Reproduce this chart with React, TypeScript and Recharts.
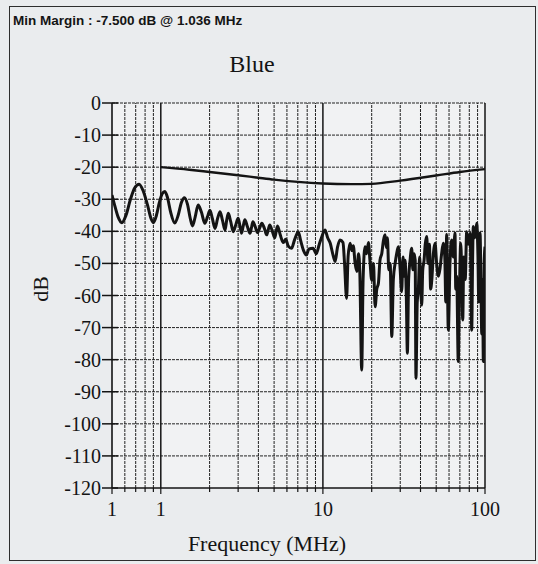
import React from "react";
import {
  LineChart,
  Line,
  XAxis,
  YAxis,
  CartesianGrid,
  ReferenceLine,
} from "recharts";

const measFreq = [
  0.5, 0.52, 0.545, 0.575, 0.61, 0.65, 0.69, 0.735, 0.78, 0.83,
  0.87, 0.9, 0.94, 0.98, 1.02, 1.06, 1.1, 1.15, 1.22, 1.28,
  1.34, 1.4, 1.46, 1.52, 1.57, 1.63, 1.7, 1.78, 1.87, 1.94,
  2.01, 2.08, 2.16, 2.24, 2.32, 2.4, 2.49, 2.55, 2.61, 2.7,
  2.8, 2.9, 3.0, 3.07, 3.15, 3.22, 3.3, 3.42, 3.55, 3.62,
  3.7, 3.82, 3.95, 4.07, 4.2, 4.35, 4.5, 4.6, 4.7, 4.88,
  5.05, 5.15, 5.25, 5.45, 5.7, 5.9, 6.1, 6.4, 6.7, 7.05,
  7.3, 7.6, 7.9, 8.2, 8.7, 9.1, 9.5, 9.8, 10.3, 10.7,
  11.1, 11.5, 11.9, 12.3, 12.75, 13.3, 13.6, 14.0, 14.3, 14.7,
  15.1, 15.4, 15.8, 16.2, 16.6, 16.9, 17.35, 17.7, 18.2, 18.6,
  19.1, 19.5, 20.0, 20.5, 21.0, 21.5, 22.0, 22.5, 23.1, 23.6,
  24.2, 24.6, 25.0, 25.5, 26.0, 26.6, 27.2, 27.9, 28.5, 29.2,
  29.9, 30.6, 31.2, 31.7, 32.1, 32.7, 33.2, 33.8, 34.5, 35.3,
  35.9, 36.5, 37.1, 37.5, 38.2, 38.8, 39.5, 40.0, 40.7, 41.3,
  42.1, 42.8, 43.7, 44.5, 45.4, 46.2, 47.0, 48.0, 49.2, 50.3,
  51.6, 52.8, 54.0, 55.3, 56.5, 57.3, 58.0, 59.4, 60.8, 62.3,
  63.8, 65.3, 66.0, 66.9, 68.4, 69.5, 70.8, 71.8, 72.9, 74.0,
  75.5, 77.1, 79.0, 80.9, 82.0, 82.8, 83.8, 84.7, 86.5, 88.9,
  90.5, 91.5, 93.2, 94.5, 95.5, 96.5, 97.7, 98.8, 100,
];

const measDb = [
  -28.7, -32, -35.5, -37.3, -35, -30, -26.5, -25.3, -27.5, -32,
  -36, -37.3, -35, -31, -28.3, -27.6, -29.5, -34, -37.4, -35,
  -31, -29.5, -31.5, -36, -38.3, -35.5, -31.8, -34, -37.5, -35.5,
  -33.4, -36, -39.1, -36, -33.9, -36.5, -39.6, -36.5, -34.4, -37,
  -40.1, -38, -35.9, -38, -40.6, -38.5, -36.4, -38.5, -40.6, -39,
  -37, -38.5, -40.4, -39, -37.5, -39, -41.1, -39.5, -38, -40,
  -42, -40, -38.3, -41, -43.5, -42.5, -44.5, -45.3, -42.5, -40.1,
  -43, -46, -47.4, -45.5, -45.3, -47, -44, -42, -39.6, -42,
  -43.7, -47, -49.4, -45, -42.7, -43.5, -50, -60.9, -48, -43.7,
  -46, -44.5, -50, -52.5, -47, -53, -83.2, -55, -44.8, -47,
  -43.5, -49, -55.2, -50, -63.5, -58, -56.2, -49, -46.8, -43,
  -41.1, -45, -42, -52, -50, -72.8, -55, -50, -47, -44.8,
  -51, -58.8, -48, -54, -49, -60, -78, -55, -49, -45.3,
  -52, -47, -49, -85.8, -62, -58.3, -48, -55, -63, -52,
  -49, -44, -41.6, -50, -44, -58, -55, -47, -43.7, -50,
  -54, -51.5, -47, -43.7, -48, -62, -41, -70.8, -50, -42.7,
  -48, -40.5, -58, -54, -80.6, -60, -43.7, -52, -67.6, -48,
  -55, -40.1, -44, -40.6, -55, -70.8, -50, -38.5, -42, -37.5,
  -48, -62, -40.5, -58, -72, -55, -80.6, -50, -44.8,
];

// limit line
const limitFreq = [1, 1.5, 2, 3, 4, 5, 7, 10, 15, 20, 30, 50, 70, 100];
const limitDb = [-20, -20.8, -21.5, -22.5, -23.3, -23.9, -24.6, -25.1, -25.3, -25.2, -24.2, -22.6, -21.5, -20.6];

const yTicks = [0, -10, -20, -30, -40, -50, -60, -70, -80, -90, -100, -110, -120];
const xTicks = [
  0.5, 0.6, 0.7, 0.8, 0.9, 1, 2, 3, 4, 5, 6, 7, 8, 9, 10,
  20, 30, 40, 50, 60, 70, 80, 90, 100,
];
const xLabelValues = [0.5, 1, 10, 100];
const xLabelText = ["1", "1", "10", "100"];
const decades = [1, 10, 100];

const measRows = measFreq.map((f, i) => ({ f, db: measDb[i] }));
const limitRows = limitFreq.map((f, i) => ({ f, db: limitDb[i] }));

const BG = "#eaecee";
const PLOT_BG = "#f1f2f3";
const INK = "#141414";
const SERIF = '"Liberation Serif", "Times New Roman", serif';

const XTick = (props: any) => {
  const { x, y, payload } = props;
  const v = payload?.value;
  const idx = xLabelValues.indexOf(v);
  const major = idx >= 0;
  return (
    <g>
      <line
        x1={x}
        x2={x}
        y1={y}
        y2={y + (major ? 6 : 4)}
        stroke={INK}
        strokeWidth={1.2}
      />
      {major && (
        <text
          x={x}
          y={y + 28}
          textAnchor="middle"
          fontSize={20}
          fontFamily={SERIF}
          fill={INK}
        >
          {xLabelText[idx]}
        </text>
      )}
    </g>
  );
};

const YTick = (props: any) => {
  const { x, y, payload } = props;
  return (
    <g>
      <line x1={x - 10} x2={x + 6} y1={y} y2={y} stroke={INK} strokeWidth={1.5} />
      <text
        x={x - 11}
        y={y}
        dy="0.35em"
        textAnchor="end"
        fontSize={20}
        fontFamily={SERIF}
        fill={INK}
      >
        {payload?.value}
      </text>
    </g>
  );
};

export default function App() {
  return (
    <div
      style={{
        position: "absolute",
        left: 0,
        top: 0,
        width: 538,
        height: 564,
        background: BG,
        overflow: "hidden",
      }}
    >
      <LineChart
        width={538}
        height={564}
        margin={{ top: 103, right: 53, bottom: 36, left: 52 }}
      >
        <CartesianGrid fill={PLOT_BG} horizontal={false} vertical={false} />
        {xTicks
          .filter((v) => !decades.includes(v) && v !== 0.5)
          .map((v) => (
            <ReferenceLine
              key={"vx" + v}
              x={v}
              stroke="#222"
              strokeWidth={1}
              strokeDasharray="3 1"
            />
          ))}
        {yTicks
          .filter((v) => v !== -120)
          .map((v) => (
            <ReferenceLine
              key={"hy" + v}
              y={v}
              stroke="#222"
              strokeWidth={1}
              strokeDasharray="3 1"
            />
          ))}
        {decades.map((v) => (
          <ReferenceLine key={"dx" + v} x={v} stroke={INK} strokeWidth={1.5} />
        ))}
        <XAxis
          dataKey="f"
          type="number"
          scale="log"
          domain={[0.5, 100]}
          allowDataOverflow
          ticks={xTicks}
          interval={0}
          height={40}
          tickSize={0}
          tickMargin={0}
          tickLine={false}
          axisLine={{ stroke: INK, strokeWidth: 1.6 }}
          tick={XTick}
        />
        <YAxis
          type="number"
          domain={[-120, 0]}
          ticks={yTicks}
          interval={0}
          width={60}
          tickSize={0}
          tickMargin={0}
          tickLine={false}
          axisLine={{ stroke: INK, strokeWidth: 1.6 }}
          tick={YTick}
        />
        <Line
          data={limitRows}
          dataKey="db"
          type="monotone"
          stroke={INK}
          strokeWidth={2.4}
          dot={false}
          activeDot={false}
          isAnimationActive={false}
        />
        <Line
          data={measRows}
          dataKey="db"
          type="monotone"
          stroke={INK}
          strokeWidth={3}
          dot={false}
          activeDot={false}
          isAnimationActive={false}
        />
      </LineChart>

      <div
        style={{
          position: "absolute",
          left: 9,
          top: 6,
          width: 527,
          height: 555,
          boxSizing: "border-box",
          border: "1.5px solid #2e2e2e",
          pointerEvents: "none",
        }}
      />
      <div
        style={{
          position: "absolute",
          left: 13,
          top: 13,
          font: 'bold 13.5px "Liberation Sans", Arial, sans-serif',
          color: INK,
          whiteSpace: "nowrap",
        }}
      >
        Min Margin : -7.500 dB @ 1.036 MHz
      </div>
      <div
        style={{
          position: "absolute",
          left: 0,
          width: 504,
          top: 52,
          textAlign: "center",
          fontFamily: SERIF,
          fontSize: 24,
          lineHeight: "24px",
          color: INK,
        }}
      >
        Blue
      </div>
      <div
        style={{
          position: "absolute",
          left: 0,
          width: 534,
          top: 533,
          textAlign: "center",
          fontFamily: SERIF,
          fontSize: 22,
          lineHeight: "22px",
          color: INK,
        }}
      >
        Frequency (MHz)
      </div>
      <div
        style={{
          position: "absolute",
          left: 41,
          top: 289,
          transform: "translate(-50%, -50%) rotate(-90deg)",
          fontFamily: SERIF,
          fontSize: 22,
          lineHeight: "22px",
          color: INK,
          whiteSpace: "nowrap",
        }}
      >
        dB
      </div>
    </div>
  );
}
